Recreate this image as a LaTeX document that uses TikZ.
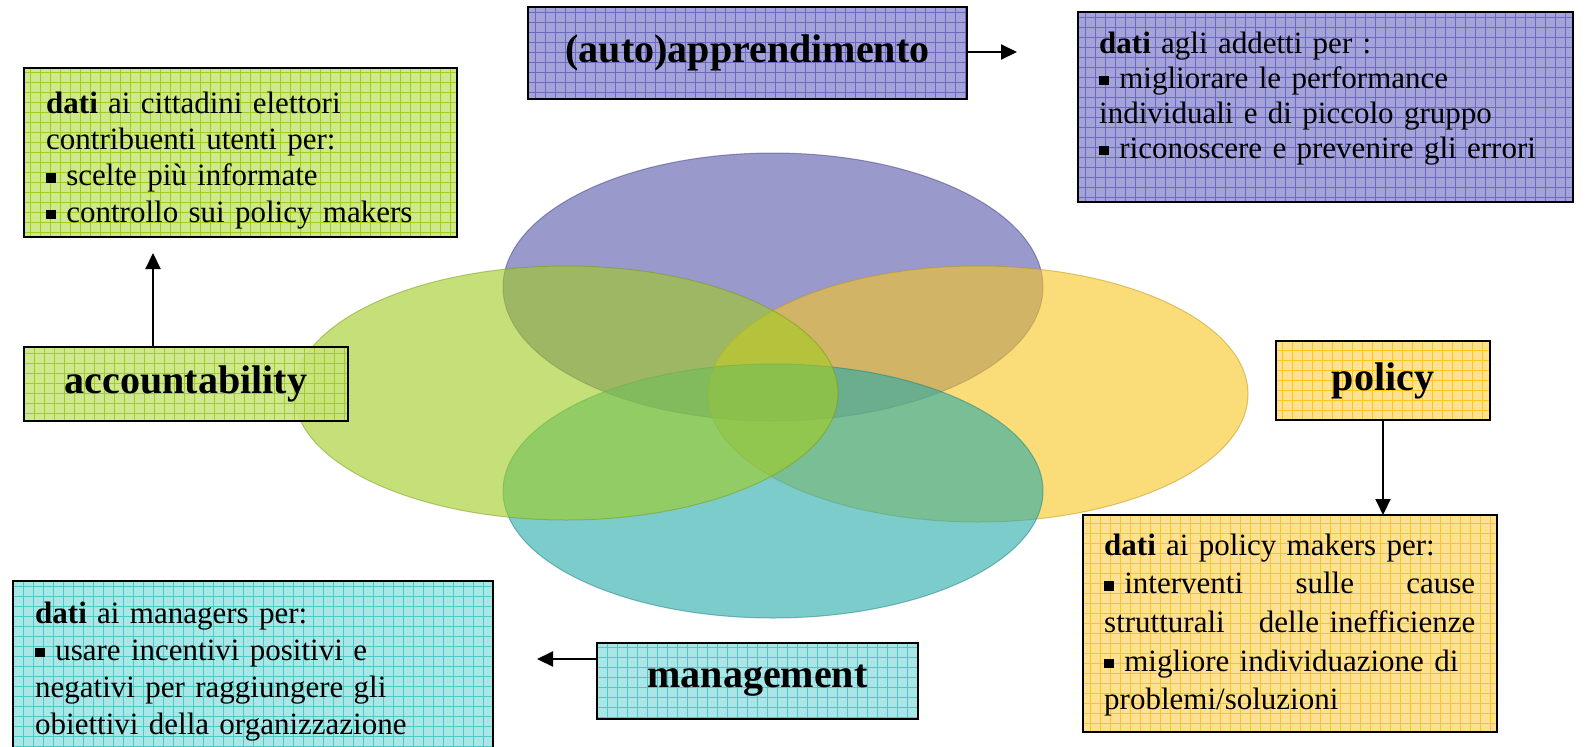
\documentclass[tikz,border=0pt]{standalone}
\usepackage{fontspec}
\setmainfont{Liberation Serif}
\usetikzlibrary{arrows.meta,calc}
\newcommand{\sqb}{\raisebox{0.1em}{\rule{0.3em}{0.3em}}\kern0.35em}
\definecolor{elP}{HTML}{5555AA}
\definecolor{elY}{HTML}{F7C721}
\definecolor{elT}{HTML}{26AAAA}
\definecolor{elG}{HTML}{A1CC21}
\definecolor{bxP}{HTML}{9898D6}
\definecolor{grP}{HTML}{6A6ABE}
\definecolor{bxG}{HTML}{C9E57C}
\definecolor{grG}{HTML}{9ECE1E}
\definecolor{bxY}{HTML}{FFDF82}
\definecolor{grY}{HTML}{FFC61A}
\definecolor{bxT}{HTML}{A0E3E3}
\definecolor{grT}{HTML}{4CCACA}
\tikzset{
  gbox/.style 2 args={draw=black, line width=2pt, fill=#1, fill opacity=0.88, text opacity=1,
    inner sep=0pt, outer sep=0pt, anchor=north west,
    font=\fontsize{40}{48}\selectfont\bfseries,
    path picture={\draw[#2, line width=0.8pt, draw opacity=1] (path picture bounding box.south west) grid[step=10pt] (path picture bounding box.north east);}},
  txt/.style={inner sep=0pt, anchor=north west, align=left, text width=480pt},
  conn/.style={line width=2pt, -{Triangle[length=16pt,width=15pt]}},
  ell/.style={fill=#1, draw=#1!75!black, fill opacity=0.6, draw opacity=0.5, line width=1pt}
}
\begin{document}
\begin{tikzpicture}[x=1pt,y=-1pt]
\useasboundingbox (0,0) rectangle (1588,747);
\fill[white] (0,0) rectangle (1588,747);
% ellipses
\path[ell=elP] (773,287) ellipse [x radius=270pt, y radius=134pt];
\path[ell=elY] (978,394) ellipse [x radius=270pt, y radius=128pt];
\path[ell=elT] (773,491) ellipse [x radius=270pt, y radius=127pt];
\path[ell=elG] (566,393) ellipse [x radius=272pt, y radius=127pt];
% boxes
\node[gbox={bxP}{grP}, minimum width=439pt, minimum height=92pt] (app) at (528,7) {(auto)apprendimento};
\node[gbox={bxP}{grP}, minimum width=495pt, minimum height=190pt] (pdat) at (1078,12) {};
\node[gbox={bxG}{grG}, minimum width=433pt, minimum height=169pt] (gdat) at (24,68) {};
\node[gbox={bxG}{grG}, minimum width=324pt, minimum height=74pt] (acc) at (24,347) {accountability};
\node[gbox={bxY}{grY}, minimum width=214pt, minimum height=79pt] (pol) at (1276,341) {policy};
\node[gbox={bxY}{grY}, minimum width=414pt, minimum height=217pt] (ydat) at (1083,515) {};
\node[gbox={bxT}{grT}, minimum width=321pt, minimum height=76pt] (mgmt) at (597,643) {management};
\node[gbox={bxT}{grT}, minimum width=480pt, minimum height=190pt] (tdat) at (13,581) {};
% texts
\node[txt, font=\fontsize{31}{36.3}\selectfont] (gtxt) at (46,87.6)
  {\strut\textbf{dati} ai cittadini elettori\\contribuenti utenti per:\\\sqb scelte più informate\\\sqb controllo sui policy makers};
\node[txt, font=\fontsize{31}{35}\selectfont] (ptxt) at (1099,28.5)
  {\strut\textbf{dati} agli addetti per :\\\sqb migliorare le performance\\individuali e di piccolo gruppo\\\sqb riconoscere e prevenire gli errori};
\node[txt, font=\fontsize{31}{38.7}\selectfont] (ytxt) at (1104,527.9)
  {\strut\textbf{dati} ai policy makers per:\\\makebox[371pt][l]{\sqb interventi\hfill sulle\hfill cause}\\\makebox[371pt][l]{strutturali\hfill delle inefficienze}\\\sqb migliore individuazione di\\problemi/soluzioni};
\node[txt, font=\fontsize{31}{37}\selectfont] (ttxt) at (35,597)
  {\strut\textbf{dati} ai managers per:\\\sqb usare incentivi positivi e\\negativi per raggiungere gli\\obiettivi della organizzazione};
% connectors
\coordinate (append) at (1017,52);
\coordinate (accstart) at (153,347);
\coordinate (accend) at (153,253);
\coordinate (mgstart) at (597,659);
\coordinate (mgend) at (537,659);
\draw[conn] (app.east |- append) -- (append);
\draw[conn] (accstart) -- (accend);
\draw[conn] (pol.south) -- (pol.south |- ydat.north);
\draw[conn] (mgstart) -- (mgend);
\end{tikzpicture}
\end{document}
